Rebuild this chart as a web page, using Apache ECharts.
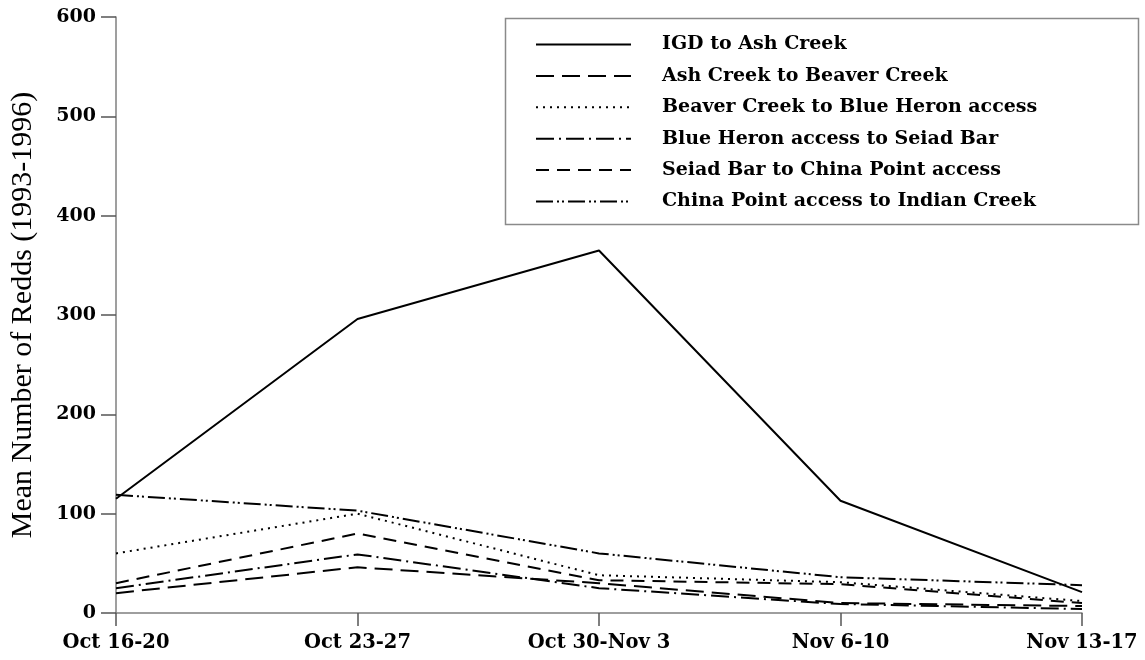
<!DOCTYPE html>
<html>
<head>
<meta charset="utf-8">
<script src="https://cdn.jsdelivr.net/npm/echarts@6/dist/echarts.min.js"></script>
<style>
html,body{margin:0;padding:0;background:#fff;}
#c{width:1145px;height:660px;}
</style>
</head>
<body>
<div id="c"></div>
<script>
var categories = ['Oct 16-20', 'Oct 23-27', 'Oct 30-Nov 3', 'Nov 6-10', 'Nov 13-17'];
var igdToAsh = [115, 296, 365, 113, 21];
var ashToBeaver = [20, 46, 30, 10, 7];
var beaverToBlueHeron = [60, 100, 38, 31, 12];
var blueHeronToSeiad = [25, 59, 25, 9, 4];
var seiadToChinaPoint = [30, 80, 33, 29, 10];
var chinaPointToIndian = [119, 103, 60, 36, 28];
var seriesNames = ['IGD to Ash Creek', 'Ash Creek to Beaver Creek', 'Beaver Creek to Blue Heron access',
  'Blue Heron access to Seiad Bar', 'Seiad Bar to China Point access', 'China Point access to Indian Creek'];
var seriesData = [igdToAsh, ashToBeaver, beaverToBlueHeron, blueHeronToSeiad, seiadToChinaPoint, chinaPointToIndian];
var dashTypes = ['solid', [18, 8], [2, 5], [18, 5, 2, 5], [13, 8], [17, 4, 2, 3, 2, 4]];

var boldSerif = '"DejaVu Serif", "Liberation Serif", serif';
var serif = '"Liberation Serif", "DejaVu Serif", serif';
var chart = echarts.init(document.getElementById('c'), null, {renderer: 'canvas'});
var series = seriesNames.map(function (n, i) {
  return {
    name: n, type: 'line', data: seriesData[i], symbol: 'none',
    lineStyle: {color: '#000', width: 2, type: dashTypes[i]},
    itemStyle: {color: '#000'}
  };
});
chart.setOption({
  animation: false,
  backgroundColor: '#fff',
  grid: {left: 116, right: 63, top: 17, bottom: 47},
  xAxis: {
    type: 'category', data: categories, boundaryGap: false,
    axisLine: {lineStyle: {color: '#7f7f7f', width: 1.5}},
    axisTick: {show: true, length: 13, lineStyle: {color: '#555', width: 1.5}},
    axisLabel: {color: '#000', fontFamily: boldSerif, fontWeight: 'bold', fontSize: 19.5, margin: 20}
  },
  yAxis: {
    type: 'value', min: 0, max: 600, interval: 100,
    name: 'Mean Number of Redds (1993-1996)', nameLocation: 'middle', nameGap: 78,
    nameTextStyle: {color: '#000', fontFamily: serif, fontSize: 30},
    splitLine: {show: false},
    axisLine: {show: true, lineStyle: {color: '#7f7f7f', width: 1.5}},
    axisTick: {show: true, length: 15, lineStyle: {color: '#555', width: 1.5}},
    axisLabel: {color: '#000', fontFamily: boldSerif, fontWeight: 'bold', fontSize: 19, margin: 20}
  },
  legend: {
    orient: 'vertical', left: 530, top: 30,
    itemWidth: 95, itemHeight: 16, itemGap: 12.4,
    itemStyle: {opacity: 0},
    textStyle: {color: '#000', fontFamily: boldSerif, fontWeight: 'bold', fontSize: 19, padding: [0, 0, 0, 26]},
    data: seriesNames
  },
  graphic: [{
    type: 'rect', left: 503, top: 16, shape: {width: 633, height: 206},
    style: {fill: 'none', stroke: '#8a8a8a', lineWidth: 1.5}, z: 0
  }],
  series: series
});
</script>
</body>
</html>
